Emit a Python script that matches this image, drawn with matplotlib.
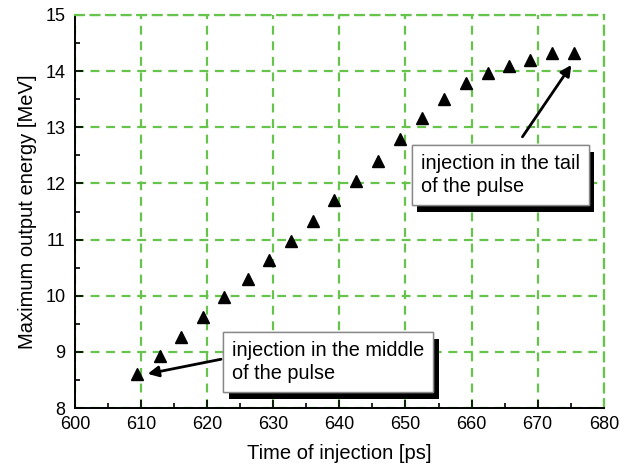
import matplotlib.pyplot as plt
from matplotlib import patheffects
from matplotlib.ticker import MultipleLocator

plt.rcParams['font.family'] = ['Liberation Sans', 'DejaVu Sans']

# injection time [ps] and maximum output energy [MeV]
time_ps = [609.4, 612.8, 616.0, 619.4, 622.6, 626.1, 629.3, 632.7, 636.0, 639.2,
           642.5, 645.8, 649.2, 652.5, 655.9, 659.1, 662.5, 665.7, 668.8, 672.2, 675.5]
energy_mev = [8.60, 8.93, 9.27, 9.62, 9.97, 10.30, 10.64, 10.98, 11.34, 11.70,
              12.05, 12.40, 12.80, 13.16, 13.50, 13.78, 13.97, 14.10, 14.20, 14.32, 14.32]

GREEN = '#66c44c'

fig = plt.figure(figsize=(6.25, 4.68), dpi=100)
ax = fig.add_axes([0.12, 0.128, 0.846, 0.84])

ax.plot(time_ps, energy_mev, linestyle='none', marker='^', color='black',
        markersize=9, zorder=5)

ax.set_xlim(600, 680)
ax.set_ylim(8, 15)
ax.xaxis.set_major_locator(MultipleLocator(10))
ax.xaxis.set_minor_locator(MultipleLocator(5))
ax.yaxis.set_major_locator(MultipleLocator(1))
ax.yaxis.set_minor_locator(MultipleLocator(0.5))

ax.grid(True, which='major', color=GREEN, linestyle=(0, (4, 3)), linewidth=1.6)
for side in ['top', 'right']:
    ax.spines[side].set_color(GREEN)
    ax.spines[side].set_linestyle((0, (4, 3)))
    ax.spines[side].set_linewidth(1.6)
for side in ['left', 'bottom']:
    ax.spines[side].set_linewidth(1.4)

ax.tick_params(which='both', direction='in', top=False, right=False,
               labelsize=13, width=1.2)
ax.tick_params(axis='x', which='both', pad=5.5)
ax.tick_params(axis='y', which='both', pad=7)
ax.tick_params(which='major', length=6)
ax.tick_params(which='minor', length=3.5)

ax.set_xlabel('Time of injection [ps]', fontsize=14.5, labelpad=8)
ax.set_ylabel('Maximum output energy [MeV]', fontsize=14.5, labelpad=6)

arrow = dict(arrowstyle='-|>', color='black', lw=2, mutation_scale=16,
             shrinkA=0, shrinkB=0)
ax.annotate('', xy=(611.0, 8.61), xytext=(622.1, 8.87), arrowprops=arrow)
ax.annotate('', xy=(675.1, 14.11), xytext=(667.7, 12.83), arrowprops=arrow)

shadow = [patheffects.withSimplePatchShadow(offset=(4, -5), shadow_rgbFace='black', alpha=1.0),
          patheffects.Normal()]
box = dict(boxstyle='square,pad=0.45', facecolor='white', edgecolor='#888888', linewidth=1)

t1 = ax.text(623.8, 9.19, 'injection in the middle\nof the pulse', fontsize=14.3,
             ha='left', va='top', linespacing=1.25, bbox=box, zorder=6)
t2 = ax.text(652.3, 12.52, 'injection in the tail\nof the pulse', fontsize=14.3,
             ha='left', va='top', linespacing=1.25, bbox=box, zorder=6)
for t in (t1, t2):
    t.get_bbox_patch().set_path_effects(shadow)

fig.savefig('out.png', dpi=100)
